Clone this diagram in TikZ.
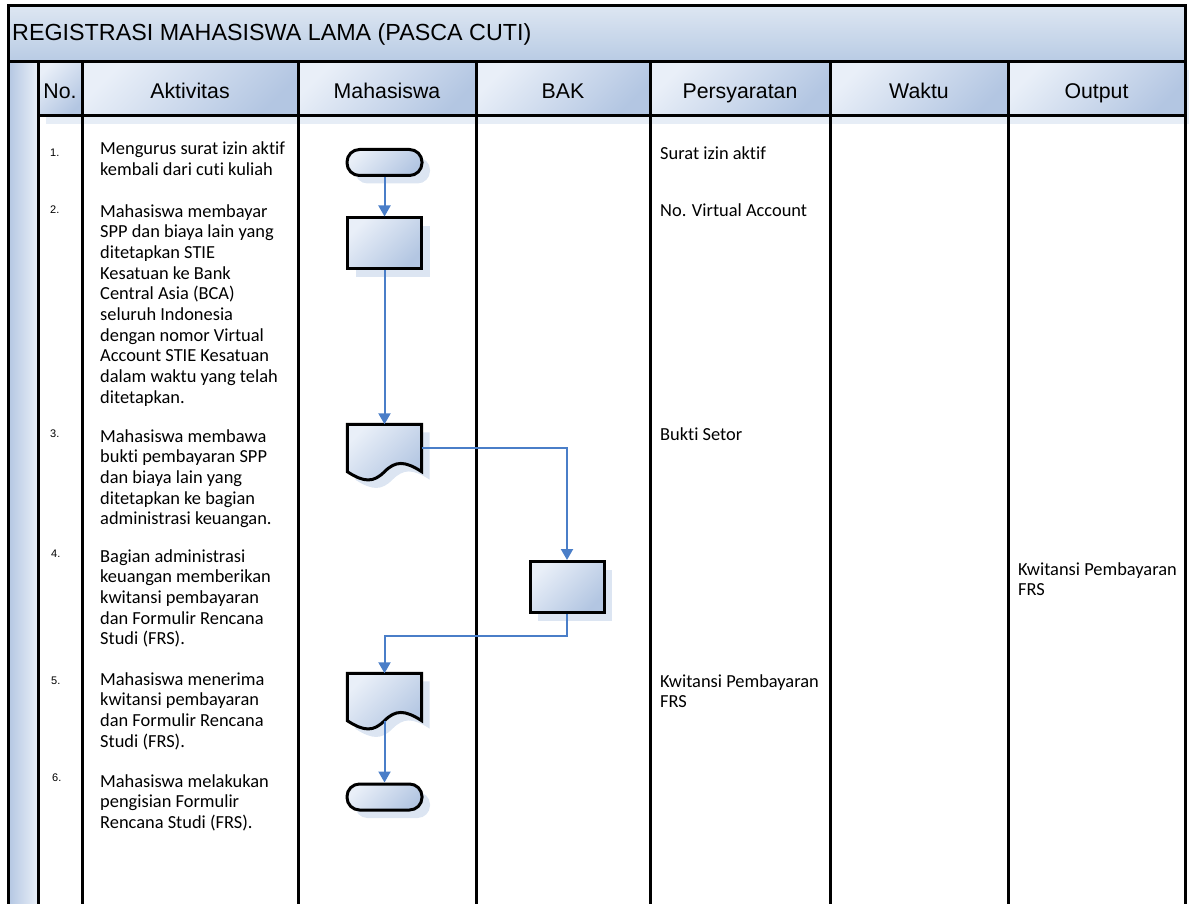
\documentclass[tikz,border=0pt]{standalone}
\usepackage{fontspec}
\setmainfont{Carlito}[Ligatures=NoCommon]
\newfontfamily\arialfont{Liberation Sans}
\usetikzlibrary{positioning,calc,arrows.meta,shadows}

\definecolor{flowblue}{HTML}{4A7EC8}
\definecolor{gradlight}{HTML}{E9EFF8}
\definecolor{graddark}{HTML}{B3C6E2}
\definecolor{shadeblue}{HTML}{DCE5F2}
\definecolor{barlight}{HTML}{DDE6F2}
\definecolor{bardark}{HTML}{B8CBE4}

\begin{document}
\begin{tikzpicture}[
  x=1pt, y=-1pt,
  >={Triangle[length=11pt,width=12pt]},
  every node/.style={align=left, inner sep=0pt},
  lane/.style={line width=3pt},
  flow/.style={->, draw=flowblue, line width=2pt},
  shapefill/.style={top color=gradlight, bottom color=graddark, shading angle=45, draw=black, line width=3pt,
    drop shadow={shadow xshift=8pt, shadow yshift=-8pt, fill=shadeblue, opacity=1}},
  terminal/.style={shapefill, rounded corners=12.5pt, minimum width=75pt, minimum height=26pt},
  process/.style={shapefill, minimum width=74pt, minimum height=51pt},
  docbox/.style={minimum width=74pt, minimum height=47pt},
  headcell/.style={top color=gradlight, bottom color=graddark, shading angle=45, minimum height=54pt,
    text height=20pt, text depth=0pt,
    drop shadow={shadow xshift=8pt, shadow yshift=-8pt, fill=shadeblue!70, opacity=1},
    font=\arialfont\fontsize{21.3}{24}\selectfont, anchor=center},
  num/.style={font=\arialfont\fontsize{11}{12}\selectfont, anchor=base west},
  acttext/.style={font=\fontsize{18.4}{20.7}\selectfont, anchor=base west}
]
\useasboundingbox (0,0) rectangle (1189,904);

% --- Title bar and left strip ---
\path[top color=barlight, bottom color=bardark] (8,6) rectangle (1185,62);
\path[left color=graddark, right color=gradlight] (8,62) rectangle (38,904);
\node[font=\arialfont\fontsize{23.3}{26}\selectfont, anchor=west] (title) at (12,34) {REGISTRASI MAHASISWA LAMA (PASCA CUTI)};

% --- Column headers ---
\node[headcell, minimum width=44pt]  (hno)   at (60,89)   {No.};
\node[headcell, minimum width=216pt] (hakt)  at (190,89)  {Aktivitas};
\node[headcell, minimum width=178pt] (hmhs)  at (387,89)  {Mahasiswa};
\node[headcell, minimum width=174pt] (hbak)  at (563,89)  {BAK};
\node[headcell, minimum width=180pt] (hsyar) at (740,89)  {Persyaratan};
\node[headcell, minimum width=178pt] (hwkt)  at (919,89)  {Waktu};
\node[headcell, minimum width=177pt] (hout)  at (1096.5,89) {Output};

% --- Grid lines ---
\draw[lane] (8,904) -- (8,6) -- (1185,6) -- (1185,904);
\draw[lane] (8,62) -- (1185,62);
\draw[lane] (38,116) -- (1185,116);
\foreach \x in {38,82,298,476,650,830,1008}
  \draw[lane] (\x,62) -- (\x,904);

% --- Numbers ---
\node[num] (n1) at (50,157) {1.};
\node[num] (n2) at (50,214) {2.};
\node[num] (n3) at (50,437) {3.};
\node[num] (n4) at (51,557) {4.};
\node[num] (n5) at (51,684) {5.};
\node[num] (n6) at (52,781) {6.};

% --- Activities (anchored on the last line) ---
\node[acttext] (a1) at (100,175.7) {Mengurus surat izin aktif\\kembali dari cuti kuliah};
\node[acttext] (a2) at (100,403.3) {Mahasiswa membayar\\SPP dan biaya lain yang\\ditetapkan STIE\\Kesatuan ke Bank\\Central Asia (BCA)\\seluruh Indonesia\\dengan nomor Virtual\\Account STIE Kesatuan\\dalam waktu yang telah\\ditetapkan.};
\node[acttext] (a3) at (100,524.8) {Mahasiswa membawa\\bukti pembayaran SPP\\dan biaya lain yang\\ditetapkan ke bagian\\administrasi keuangan.};
\node[acttext] (a4) at (100,644.8) {Bagian administrasi\\keuangan memberikan\\kwitansi pembayaran\\dan Formulir Rencana\\Studi (FRS).};
\node[acttext] (a5) at (100,747.1) {Mahasiswa menerima\\kwitansi pembayaran\\dan Formulir Rencana\\Studi (FRS).};
\node[acttext] (a6) at (100,828.4) {Mahasiswa melakukan\\pengisian Formulir\\Rencana Studi (FRS).};

% --- Persyaratan and output ---
\node[acttext] (s1) at (660,160) {Surat izin aktif};
\node[acttext] (s2) at (660,217) {No. Virtual Account};
\node[acttext] (s3) at (660,440) {Bukti Setor};
\node[acttext] (s5) at (660,707.7) {Kwitansi Pembayaran\\FRS};
\node[acttext] (o4) at (1018,595.7) {Kwitansi Pembayaran\\FRS};

% --- Flow shapes ---
\node[terminal] (t1) at (384.5,162.5) {};
\node[process]  (p2) at (384.5,243.5) {};
\node[docbox]   (d3) at (384.5,448) {};
\node[process]  (p4) at (567,587) {};
\node[docbox]   (d5) at (384.5,697) {};
\node[terminal] (t6) at (384.5,797) {};

\foreach \d in {d3,d5}
  \draw[shapefill] (\d.north west) -- (\d.north east) -- (\d.south east)
    .. controls ($(\d.south east)+(-17,-11)$) and ($(\d.south)+(11,-11)$) .. (\d.south)
    .. controls ($(\d.south)+(-11,11)$) and ($(\d.south west)+(17,11)$) .. (\d.south west) -- cycle;

% --- Connectors ---
\draw[flow] (t1) -- (p2);
\draw[flow] (p2) -- (d3);
\draw[flow] (d3.east) -| (p4.north);
\draw[flow] (p4.south) -- ++(0,22) -| (d5.north);
\draw[flow] (d5.south) -- (t6);

\end{tikzpicture}
\end{document}
